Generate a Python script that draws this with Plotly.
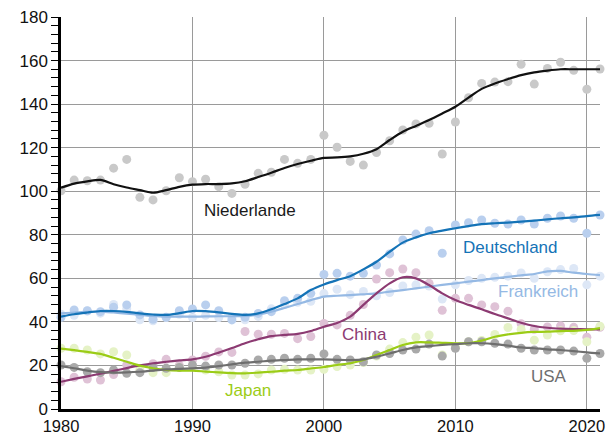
import plotly.graph_objects as go

years = list(range(1980, 2022))

nl_pts = [100.2, 105.1, 104.8, 105.1, 110.6, 114.6, 97.2, 96.0, 100.2, 106.2,
          104.4, 105.5, 102.1, 99.0, 103.2, 108.2, 108.7, 114.6, 112.8, 114.6,
          125.7, 120.2, 113.7, 112.0, 117.8, 123.2, 128.1, 130.9, 131.2, 117.1,
          131.8, 142.9, 149.5, 150.1, 150.3, 158.3, 149.2, 156.4, 159.2, 155.5,
          146.8, 156.1]
nl_trend = [101.6, 103.5, 104.5, 105.2, 103.2, 101.7, 100.5, 99.3, 100.5, 102.0,
            103.0, 103.3, 103.3, 103.6, 104.6, 106.5, 108.5, 110.7, 112.5, 114.0,
            115.3, 115.5, 116.0, 117.2, 119.3, 123.5, 127.3, 130.0, 132.7, 135.7,
            138.8, 143.0, 147.0, 149.5, 151.5, 153.3, 154.6, 155.4, 156.0, 156.0,
            156.0, 156.0]

de_pts = [42.1, 45.5, 45.1, 44.7, 46.7, 47.8, 43.2, 41.2, 42.1, 45.1,
          45.9, 47.8, 45.1, 40.9, 42.1, 43.9, 44.7, 49.7, 50.8, 53.1,
          61.8, 62.3, 61.0, 62.3, 66.1, 71.2, 77.6, 80.3, 81.9, 71.5,
          84.5, 85.5, 86.8, 85.3, 84.9, 86.8, 84.9, 87.6, 88.6, 87.6,
          80.7, 89.1]
de_trend = [42.4, 43.5, 44.3, 45.0, 45.0, 44.6, 43.9, 43.4, 43.2, 44.0,
            45.0, 44.9, 44.4, 43.7, 43.2, 43.9, 45.8, 48.2, 50.8, 54.6,
            57.2, 59.2, 61.0, 64.1, 67.6, 72.2, 76.4, 78.8, 80.7, 81.9,
            83.0, 84.0, 84.9, 85.3, 85.6, 86.0, 86.5, 87.1, 87.6, 88.0,
            88.6, 89.1]

fr_pts = [43.5, 43.0, 45.0, 44.0, 48.0, 46.0, 41.0, 40.5, 42.0, 43.5,
          42.0, 43.0, 42.0, 42.0, 41.0, 42.5, 46.0, 48.0, 49.0, 49.5,
          53.0, 55.0, 52.5, 54.0, 52.0, 53.5, 56.5, 57.0, 56.5, 50.5,
          57.0, 59.0, 60.0, 60.5, 61.0, 62.5, 60.0, 63.0, 64.0, 64.5,
          57.0, 61.0]
fr_trend = [43.9, 44.3, 44.6, 44.7, 44.3, 43.8, 43.2, 42.7, 42.4, 42.4,
            42.4, 42.5, 42.6, 42.6, 42.7, 43.4, 44.7, 46.4, 48.2, 50.0,
            51.6, 52.0, 52.3, 52.7, 53.1, 53.9, 54.6, 55.4, 56.2, 57.0,
            57.7, 58.5, 59.2, 60.0, 60.7, 61.4, 62.0, 63.2, 63.4, 62.6,
            62.0, 61.5]

cn_pts = [12.5, 14.6, 13.8, 13.3, 15.8, 20.2, 17.3, 20.8, 22.8, 20.0,
          22.5, 24.2, 26.2, 26.0, 35.6, 34.3, 34.3, 34.7, 32.3, 33.3,
          39.3, 38.6, 43.0, 48.0, 59.7, 62.6, 64.3, 62.6, 57.7, 45.3,
          50.8, 50.8, 47.8, 47.0, 44.9, 39.2, 36.6, 37.7, 38.2, 37.5,
          33.0, 37.5]
cn_trend = [12.5, 13.8, 15.0, 16.2, 17.5, 18.8, 20.0, 21.0, 21.7, 22.3,
            22.8, 24.0, 25.9, 28.0, 30.2, 32.0, 33.5, 34.0, 34.5, 35.8,
            37.8, 39.5, 42.4, 47.8, 53.1, 57.7, 60.5, 60.0, 56.9, 53.1,
            50.0, 47.8, 45.8, 43.6, 41.6, 39.6, 38.1, 37.3, 36.9, 36.7,
            36.6, 36.6]

jp_pts = [27.9, 27.9, 27.1, 25.3, 26.3, 24.8, 17.9, 16.7, 16.7, 19.1,
          19.7, 17.9, 17.1, 15.6, 15.6, 16.1, 17.9, 18.2, 17.9, 17.9,
          18.2, 19.5, 20.2, 21.3, 24.3, 27.5, 30.5, 33.0, 34.0, 24.8,
          28.5, 30.9, 31.5, 34.2, 37.4, 36.5, 31.6, 34.0, 35.9, 36.0,
          30.9, 38.0]
jp_trend = [27.7, 27.0, 26.2, 25.3, 23.5, 21.7, 19.9, 18.7, 17.9, 17.6,
            17.6, 17.2, 16.8, 16.5, 16.4, 16.7, 17.1, 17.6, 17.9, 18.6,
            19.3, 20.2, 21.0, 22.5, 24.8, 27.1, 29.4, 30.6, 30.6, 30.4,
            30.2, 30.2, 31.4, 33.2, 34.3, 35.0, 35.4, 35.5, 35.8, 35.9,
            36.3, 37.1]

us_pts = [20.2, 19.1, 17.1, 16.7, 17.9, 16.4, 16.7, 19.1, 18.7, 19.1,
          20.2, 19.7, 20.2, 20.2, 21.0, 22.5, 22.8, 23.3, 22.8, 23.3,
          25.3, 22.8, 22.5, 21.7, 24.8, 25.5, 27.1, 27.5, 29.8, 24.3,
          27.9, 30.9, 30.9, 30.2, 29.8, 27.9, 27.1, 27.1, 27.1, 26.6,
          23.3, 25.5]
us_trend = [19.7, 18.7, 17.6, 16.9, 16.7, 16.8, 17.1, 17.6, 18.2, 18.4,
            18.7, 19.0, 19.7, 20.5, 21.3, 21.7, 22.2, 22.5, 22.8, 22.8,
            22.8, 22.6, 22.5, 22.8, 24.0, 25.5, 27.1, 28.3, 28.9, 29.4,
            29.8, 30.2, 30.2, 29.8, 29.1, 28.3, 27.9, 27.4, 27.1, 26.6,
            26.0, 25.5]

series = [
    # name, points, trend, dot colour, line colour, label x, label y
    ("Niederlande", nl_pts, nl_trend, "#c9c9c9", "#111111", 1994.4, 91.0),
    ("Frankreich", fr_pts, fr_trend, "#dde7f6", "#95b9e4", 2016.25, 54.0),
    ("Deutschland", de_pts, de_trend, "#b9cfee", "#1473b7", 2014.2, 74.0),
    ("China", cn_pts, cn_trend, "#dfc2d6", "#8c3a72", 2003.1, 34.0),
    ("Japan", jp_pts, jp_trend, "#e5f2c6", "#9bcc16", 1994.2, 8.7),
    ("USA", us_pts, us_trend, "#a9a9a9", "#6e6e6e", 2017.1, 14.8),
]

fig = go.Figure()
for name, pts, trend, dc, lc, lx, ly in series:
    fig.add_trace(go.Scatter(x=years, y=pts, mode="markers",
                             marker=dict(size=9, color=dc, line=dict(width=0)),
                             showlegend=False, hoverinfo="skip", cliponaxis=False))
for name, pts, trend, dc, lc, lx, ly in series:
    fig.add_trace(go.Scatter(x=years, y=trend, mode="lines",
                             line=dict(color=lc, width=2.2, shape="spline", smoothing=0.8),
                             showlegend=False, name=name))
    fig.add_annotation(x=lx, y=ly, text=name, showarrow=False,
                       font=dict(size=17, color=lc if name != "Niederlande" else "#1a1a1a"),
                       xanchor="center", yanchor="middle")

fig.update_layout(
    width=606, height=435,
    margin=dict(l=61, r=6, t=17, b=26),
    paper_bgcolor="white", plot_bgcolor="white",
    font=dict(family="Liberation Sans, Arial, Helvetica, sans-serif", size=17, color="#111111"),
    showlegend=False,
)
fig.update_xaxes(range=[1980, 2021], tickvals=[1980, 1990, 2000, 2010, 2020],
                 showgrid=True, gridcolor="#9a9a9a", gridwidth=1,
                 showline=True, linecolor="black", linewidth=2.5,
                 ticks="", ticklabelstandoff=0, tickfont=dict(size=16.5),
                 zeroline=False, automargin=False)
fig.update_yaxes(range=[0, 180], tickvals=list(range(0, 181, 20)),
                 showgrid=True, gridcolor="#9a9a9a", gridwidth=1,
                 showline=True, linecolor="black", linewidth=2.5,
                 ticks="outside", ticklen=7, tickwidth=1.2, tickcolor="black",
                 minor=dict(dtick=4, ticks="outside", ticklen=7, tickwidth=1, tickcolor="black", showgrid=False),
                 zeroline=False, automargin=False)

fig.write_html("out.html", config={"displayModeBar": False},
               post_script="document.body.style.margin='0px';document.body.style.overflow='hidden';")
